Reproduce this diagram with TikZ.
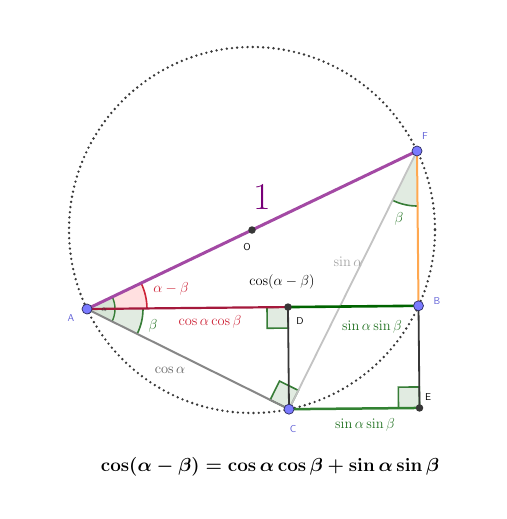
\documentclass[tikz,border=0pt]{standalone}
\usepackage{amsmath}
\usepackage{graphicx}
\usetikzlibrary{calc,angles}
\definecolor{purp}{RGB}{163,73,164}
\definecolor{onecol}{RGB}{120,0,120}
\definecolor{crim}{RGB}{165,25,60}
\definecolor{redlab}{RGB}{205,35,55}
\definecolor{dgreen}{RGB}{0,100,0}
\definecolor{glab}{RGB}{35,115,35}
\definecolor{cegreen}{RGB}{50,130,50}
\definecolor{angg}{RGB}{55,125,55}
\definecolor{orng}{RGB}{255,168,80}
\definecolor{grayac}{RGB}{135,135,135}
\definecolor{graycf}{RGB}{195,195,195}
\definecolor{sinlab}{RGB}{165,165,165}
\definecolor{coslab}{RGB}{95,95,95}
\definecolor{dk}{RGB}{55,55,55}
\definecolor{ptfill}{RGB}{122,122,255}
\definecolor{ptlab}{RGB}{95,95,215}
\begin{document}
\begin{tikzpicture}[x=1pt,y=-1pt,
  dotcircle/.style={draw=dk, line width=2.6pt, line cap=round, dash pattern=on 0pt off 5.2pt},
  rightmark/.style={draw=angg, fill=angg!15, line width=1.6pt},
  bluept/.style={circle, fill=ptfill, draw=dk!80!blue, line width=0.7pt, inner sep=0pt, minimum size=10pt},
  darkpt/.style={circle, fill=dk, inner sep=0pt, minimum size=7.5pt},
  ptname/.style={font=\sffamily\fontsize{10}{12}\selectfont, text=ptlab},
  blkname/.style={font=\sffamily\fontsize{10}{12}\selectfont, text=black},
  lab/.style={font=\fontsize{13.5}{15}\selectfont}
]
\useasboundingbox (0,0) rectangle (506,519);
\fill[white] (0,0) rectangle (506,519);
\coordinate (O) at (252,230);
\coordinate (A) at (87,309);
\coordinate (F) at (417,151);
\coordinate (B) at (418.5,305.8);
\coordinate (C) at (289,409.2);
\coordinate (D) at ($(A)!(C)!(B)$);
\coordinate (E) at ($(C)+(B)-(D)$);

% circle
\draw[dotcircle] (O) circle[radius=183];

% angle sectors
\pic[draw=redlab, fill=red!12, line width=1.6pt, angle radius=60pt] {angle=B--A--F};
\pic[draw=angg, fill=angg!15, line width=1.6pt, angle radius=56pt] {angle=C--A--B};
\pic[draw=angg, fill=angg!20, line width=1.4pt, angle radius=28pt] {angle=C--A--F};
\pic[draw=angg, fill=angg!15, line width=1.6pt, angle radius=55pt] {angle=C--F--B};

% right angle markers
\coordinate (d1) at ($(D)!21pt!(A)$);
\coordinate (d2) at ($(D)!21pt!(C)$);
\draw[rightmark] (D) -- (d1) -- ($(d1)+(d2)-(D)$) -- (d2) -- cycle;
\coordinate (c1) at ($(C)!21pt!(A)$);
\coordinate (c2) at ($(C)!21pt!(F)$);
\draw[rightmark] (C) -- (c1) -- ($(c1)+(c2)-(C)$) -- (c2) -- cycle;
\coordinate (e1) at ($(E)!21pt!(C)$);
\coordinate (e2) at ($(E)!21pt!(B)$);
\draw[rightmark] (E) -- (e1) -- ($(e1)+(e2)-(E)$) -- (e2) -- cycle;

% segments
\draw[graycf, line width=1.8pt] (C) -- (F);
\draw[grayac, line width=2pt] (A) -- (C);
\draw[orng, line width=2pt] (F) -- (B);
\draw[dk, line width=1.8pt] (D) -- (C);
\draw[dk, line width=1.8pt] (B) -- (E);
\draw[cegreen, line width=2.5pt] (C) -- (E);
\draw[crim, line width=2.2pt] (A) -- (D);
\draw[dgreen, line width=2.6pt] (D) -- (B);
\draw[purp, line width=3pt] (A) -- (F);

% points
\node[darkpt] (pO) at (O) {};
\node[darkpt] (pD) at (D) {};
\node[darkpt] (pE) at (E) {};
\node[bluept] (pA) at (A) {};
\node[bluept] (pB) at (B) {};
\node[bluept] (pC) at (C) {};
\node[bluept] (pF) at (F) {};

% point names
\node[ptname] (nA) at (71,318) {A};
\node[ptname] (nB) at (437,301) {B};
\node[ptname] (nC) at (293,429) {C};
\node[ptname] (nF) at (425,136) {F};
\node[blkname] (nD) at (300,321) {D};
\node[blkname] (nE) at (428,397) {E};
\node[blkname] (nO) at (247,247) {O};

% labels
\node[font=\fontsize{38}{40}\selectfont, text=onecol] (one) at (262,197) {1};
\node[lab] (lcosab) at (282,282) {$\cos(\alpha-\beta)$};
\node[lab, text=sinlab] (lsina) at (348,262) {$\sin\alpha$};
\node[lab, text=redlab] (lcc) at (210,322) {$\cos\alpha\cos\beta$};
\node[lab, text=glab] (lss1) at (372,327) {$\sin\alpha\sin\beta$};
\node[lab, text=glab] (lss2) at (365,425) {$\sin\alpha\sin\beta$};
\node[lab, text=coslab] (lcosa) at (170,370) {$\cos\alpha$};
\node[lab, text=redlab] (lamb) at (171,289) {$\alpha-\beta$};
\node[lab, text=glab] (lbA) at (153,326) {$\beta$};
\node[font=\fontsize{8}{9}\selectfont, text=dk] (laA) at (104,310) {$\alpha$};
\node[lab, text=glab] (lbF) at (399,219) {$\beta$};
\node[font=\fontsize{20.8}{24}\selectfont] (formula) at (270,467) {\scalebox{0.907}{$\boldsymbol{\cos(\alpha-\beta)=\cos\alpha\cos\beta+\sin\alpha\sin\beta}$}};
\end{tikzpicture}
\end{document}
